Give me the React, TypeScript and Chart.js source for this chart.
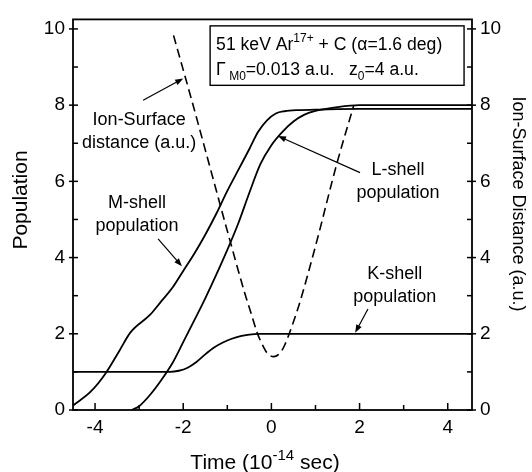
import React, { useEffect, useRef } from "react";
import { Chart, registerables } from "chart.js";

Chart.register(...registerables);

// ---- Data (time in 1e-14 s) ----
const TIME_K = [-4.5, -3.0, -2.5, -2.3, -2.1, -1.9, -1.7, -1.5, -1.3, -1.1, -0.9, -0.7, -0.5, -0.3, 0.0, 2.0, 4.55];
const K_SHELL = [1.0, 1.0, 1.0, 1.0, 1.03, 1.11, 1.26, 1.46, 1.64, 1.77, 1.87, 1.94, 1.98, 2.0, 2.0, 2.0, 2.0];

const TIME_M = [-4.5, -4.1, -3.75, -3.45, -3.2, -2.75, -2.5, -2.25, -2.0, -1.75, -1.5, -1.25, -1.0, -0.75, -0.5, -0.3, -0.1, 0.1, 0.3, 0.6, 1.0, 2.0, 4.55];
const M_SHELL = [0.12, 0.48, 0.98, 1.55, 2.03, 2.5, 2.85, 3.2, 3.65, 4.1, 4.6, 5.15, 5.75, 6.3, 6.85, 7.3, 7.6, 7.78, 7.84, 7.87, 7.88, 7.9, 7.9];

const TIME_L = [-3.17, -3.0, -2.75, -2.5, -2.25, -2.0, -1.75, -1.5, -1.25, -1.0, -0.75, -0.5, -0.25, 0.0, 0.25, 0.5, 0.75, 1.0, 1.5, 2.0, 4.55];
const L_SHELL = [0.0, 0.1, 0.4, 0.78, 1.22, 1.78, 2.35, 2.93, 3.55, 4.2, 4.9, 5.7, 6.45, 6.95, 7.3, 7.57, 7.75, 7.85, 7.95, 8.0, 8.0];

const TIME_D = [-2.22, -1.8, -1.4, -1.0, -0.6, -0.45, -0.33, -0.2, -0.1, 0.05, 0.2, 0.3, 0.45, 0.62, 1.0, 1.49, 1.87];
const DISTANCE = [9.83, 8.1, 6.4, 4.7, 3.05, 2.5, 2.05, 1.7, 1.5, 1.4, 1.5, 1.7, 2.15, 2.73, 4.3, 6.49, 8.0];

const X_TICKS = [-4, -2, 0, 2, 4];
const X_MINOR = [-3, -1, 1, 3];
const Y_TICKS = [0, 2, 4, 6, 8, 10];
const Y_MINOR = [1, 3, 5, 7, 9];

// ---- Annotations (data coordinates) ----
const NOTE_LINES = [
  ["Ion-Surface", "distance (a.u.)"],
  ["M-shell", "population"],
  ["L-shell", "population"],
  ["K-shell", "population"],
];
const NOTE_X = [-3.0, -3.05, 2.87, 2.8];
const NOTE_Y = [7.6, 5.43, 6.29, 3.56];
const ARROW_FROM_X = [-2.91, -2.57, 2.01, 2.19];
const ARROW_FROM_Y = [8.13, 4.49, 6.23, 2.65];
const ARROW_TO_X = [-2.0, -2.03, 0.15, 1.9];
const ARROW_TO_Y = [8.7, 3.77, 7.19, 2.03];

const FONT = "'Liberation Sans', Arial, sans-serif";

type Part = { t: string; m?: "sup" | "sub" };

function partFont(size: number, m?: string) {
  return `${m ? Math.round(size * 0.7) : size}px ${FONT}`;
}

function richWidth(ctx: CanvasRenderingContext2D, parts: Part[], size: number) {
  let w = 0;
  for (const p of parts) {
    ctx.font = partFont(size, p.m);
    w += ctx.measureText(p.t).width;
  }
  return w;
}

function drawRich(ctx: CanvasRenderingContext2D, parts: Part[], x: number, y: number, size: number) {
  let cx = x;
  ctx.textAlign = "left";
  ctx.textBaseline = "alphabetic";
  for (const p of parts) {
    ctx.font = partFont(size, p.m);
    const dy = p.m === "sup" ? -size * 0.42 : p.m === "sub" ? size * 0.3 : 0;
    ctx.fillText(p.t, cx, y + dy);
    cx += ctx.measureText(p.t).width;
  }
}

const decorPlugin = {
  id: "decor",
  afterDatasetsDraw(chart: any) {
    const { ctx, chartArea: a, scales } = chart;
    const xs = scales.x;
    const ys = scales.y;
    const ctx2 = ctx as CanvasRenderingContext2D;
    ctx2.save();
    ctx2.strokeStyle = "#000";
    ctx2.fillStyle = "#000";
    ctx2.lineWidth = 1.8;
    ctx2.setLineDash([]);
    ctx2.strokeRect(a.left, a.top, a.right - a.left, a.bottom - a.top);

    const seg = (x1: number, y1: number, x2: number, y2: number) => {
      ctx2.beginPath();
      ctx2.moveTo(x1, y1);
      ctx2.lineTo(x2, y2);
      ctx2.stroke();
    };
    ctx2.lineWidth = 1.5;
    X_TICKS.forEach((v) => { const p = xs.getPixelForValue(v); seg(p, a.bottom, p, a.bottom - 7); });
    X_MINOR.forEach((v) => { const p = xs.getPixelForValue(v); seg(p, a.bottom, p, a.bottom - 5); });
    Y_TICKS.forEach((v) => {
      const p = ys.getPixelForValue(v);
      seg(a.left - 4, p, a.left + 5, p);
      seg(a.right + 4, p, a.right - 5, p);
    });
    Y_MINOR.forEach((v) => {
      const p = ys.getPixelForValue(v);
      seg(a.left, p, a.left + 5, p);
      seg(a.right, p, a.right - 5, p);
    });

    // Annotation texts and arrows
    NOTE_LINES.forEach((lines, i) => {
      ctx2.font = `18px ${FONT}`;
      ctx2.textAlign = "center";
      ctx2.textBaseline = "middle";
      const px = xs.getPixelForValue(NOTE_X[i]);
      const py = ys.getPixelForValue(NOTE_Y[i]);
      lines.forEach((ln, j) => ctx2.fillText(ln, px, py + j * 23));
      const x1 = xs.getPixelForValue(ARROW_FROM_X[i]);
      const y1 = ys.getPixelForValue(ARROW_FROM_Y[i]);
      const x2 = xs.getPixelForValue(ARROW_TO_X[i]);
      const y2 = ys.getPixelForValue(ARROW_TO_Y[i]);
      const ang = Math.atan2(y2 - y1, x2 - x1);
      const hl = 8, hw = 3;
      ctx2.lineWidth = 1.2;
      seg(x1, y1, x2 - Math.cos(ang) * hl * 0.6, y2 - Math.sin(ang) * hl * 0.6);
      ctx2.beginPath();
      ctx2.moveTo(x2, y2);
      ctx2.lineTo(x2 - Math.cos(ang) * hl - Math.sin(ang) * hw, y2 - Math.sin(ang) * hl + Math.cos(ang) * hw);
      ctx2.lineTo(x2 - Math.cos(ang) * hl + Math.sin(ang) * hw, y2 - Math.sin(ang) * hl - Math.cos(ang) * hw);
      ctx2.closePath();
      ctx2.fill();
    });

    // Info box
    const bl = xs.getPixelForValue(-1.39);
    const br = xs.getPixelForValue(4.37);
    const bt = ys.getPixelForValue(10.08);
    const bb = ys.getPixelForValue(8.52);
    ctx2.lineWidth = 1.4;
    ctx2.strokeRect(bl, bt, br - bl, bb - bt);
    drawRich(ctx2, [
      { t: "51 keV Ar" }, { t: "17+", m: "sup" }, { t: " + C (α=1.6 deg)" },
    ], bl + 6, bt + 24, 17.6);
    drawRich(ctx2, [
      { t: "Γ" }, { t: " M0", m: "sub" }, { t: "=0.013 a.u.   z" }, { t: "0", m: "sub" }, { t: "=4 a.u." },
    ], bl + 6, bt + 49, 17.6);

    // Axis titles
    const tparts: Part[] = [{ t: "Time (10" }, { t: "-14", m: "sup" }, { t: " sec)" }];
    const tw = richWidth(ctx2, tparts, 21);
    drawRich(ctx2, tparts, 265 - tw / 2, 469, 21);

    ctx2.textAlign = "center";
    ctx2.textBaseline = "alphabetic";
    ctx2.font = `21px ${FONT}`;
    ctx2.save();
    ctx2.translate(27, 200);
    ctx2.rotate(-Math.PI / 2);
    ctx2.fillText("Population", 0, 0);
    ctx2.restore();
    ctx2.font = `18px ${FONT}`;
    ctx2.save();
    ctx2.translate(513, 204);
    ctx2.rotate(Math.PI / 2);
    ctx2.fillText("Ion-Surface Distance (a.u.)", 0, 0);
    ctx2.restore();

    ctx2.restore();
  },
};

function pts(xs: number[], ys: number[]) {
  return xs.map((x, i) => ({ x, y: ys[i] }));
}

export default function App() {
  const ref = useRef<HTMLCanvasElement | null>(null);

  useEffect(() => {
    if (!ref.current) return;
    const solid = {
      borderColor: "#000",
      borderWidth: 1.8,
      pointRadius: 0,
      fill: false,
      cubicInterpolationMode: "monotone" as const,
    };
    const tickFont = { family: FONT, size: 19 };
    const chart = new Chart(ref.current, {
      type: "line",
      data: {
        datasets: [
          { ...solid, label: "K-shell", data: pts(TIME_K, K_SHELL), yAxisID: "y" },
          { ...solid, label: "M-shell", data: pts(TIME_M, M_SHELL), yAxisID: "y" },
          { ...solid, label: "L-shell", data: pts(TIME_L, L_SHELL), yAxisID: "y" },
          { ...solid, label: "Distance", data: pts(TIME_D, DISTANCE), yAxisID: "y2", borderDash: [9, 5], borderWidth: 1.6 },
        ],
      },
      options: {
        animation: false,
        responsive: false,
        devicePixelRatio: 1,
        layout: { padding: { top: 15, left: 0, right: 0, bottom: 0 } },
        plugins: { legend: { display: false }, tooltip: { enabled: false }, title: { display: false } },
        scales: {
          x: {
            type: "linear",
            min: -4.5,
            max: 4.55,
            grid: { display: false, drawTicks: false },
            border: { display: false },
            afterBuildTicks: (s: any) => { s.ticks = X_TICKS.map((v) => ({ value: v })); },
            afterFit: (s: any) => { s.height = 62; },
            ticks: { font: tickFont, color: "#000", padding: 6, maxRotation: 0 },
          },
          y: {
            type: "linear",
            position: "left",
            min: 0,
            max: 10.25,
            grid: { display: false, drawTicks: false },
            border: { display: false },
            afterBuildTicks: (s: any) => { s.ticks = Y_TICKS.map((v) => ({ value: v })); },
            afterFit: (s: any) => { s.width = 73; },
            ticks: { font: tickFont, color: "#000", padding: 8 },
          },
          y2: {
            type: "linear",
            position: "right",
            min: 0,
            max: 10.25,
            grid: { display: false, drawTicks: false },
            border: { display: false },
            afterBuildTicks: (s: any) => { s.ticks = Y_TICKS.map((v) => ({ value: v })); },
            afterFit: (s: any) => { s.width = 60; },
            ticks: { font: tickFont, color: "#000", padding: 8 },
          },
        },
      },
      plugins: [decorPlugin],
    });
    return () => chart.destroy();
  }, []);

  return (
    <div style={{ position: "absolute", left: 0, top: 0, width: 532, height: 472, background: "#fff" }}>
      <canvas ref={ref} width={532} height={472} />
    </div>
  );
}
